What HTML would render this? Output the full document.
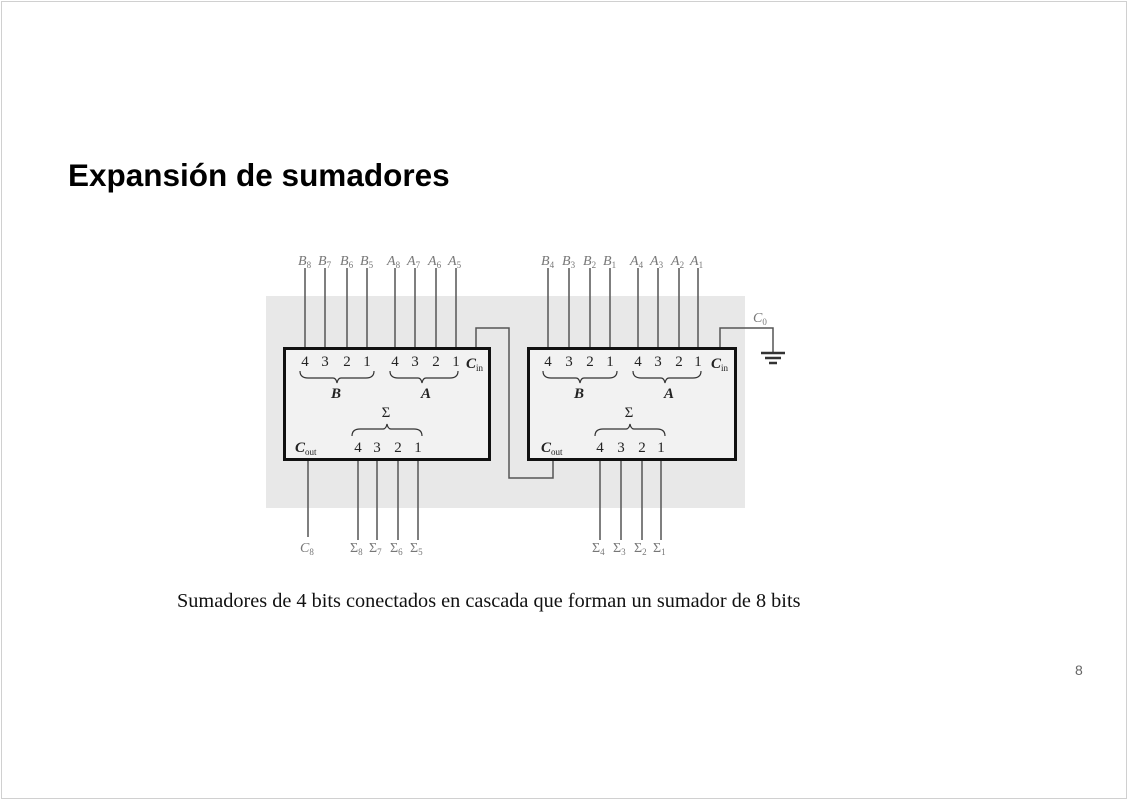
<!DOCTYPE html>
<html><head><meta charset="utf-8"><style>
body{margin:0;width:1128px;height:800px;background:#fff;overflow:hidden;position:relative;font-family:"Liberation Sans",sans-serif}
.frame{position:absolute;left:1px;top:1px;width:1124px;height:796px;border:1px solid #d0d0d0}
h1{position:absolute;left:68px;top:157px;margin:0;font-size:31.5px;font-weight:bold;color:#000}
.cap{position:absolute;left:177px;top:590px;font-family:"Liberation Serif",serif;font-size:20.3px;color:#111}
.pn{position:absolute;left:1075px;top:662px;font-size:14px;color:#666}
tspan{font-style:normal}
</style></head><body>
<div class="frame"></div>
<h1>Expansión de sumadores</h1>
<svg width="1128" height="800" style="position:absolute;left:0;top:0" font-family="Liberation Serif,serif">
<rect x="266" y="296" width="479" height="212" fill="#e8e8e8"/>
<g stroke="#555" stroke-width="1.5" fill="none">
<path d="M305 268V347M325 268V347M347 268V347M367 268V347M395 268V347M415 268V347M436 268V347M456 268V347"/>
<path d="M548 268V347M569 268V347M590 268V347M610 268V347M638 268V347M658 268V347M679 268V347M698 268V347"/>
<path d="M476 347V328H509V478H553V460"/>
<path d="M720 347V328H773V352"/>
<path d="M308 460V537M358 460V540M377 460V540M398 460V540M418 460V540"/>
<path d="M600 460V540M621 460V540M642 460V540M661 460V540"/>
</g>
<g stroke="#333" stroke-width="2.5"><path d="M761 353H785M765 358H781M769 363H777"/></g>
<rect x="284.5" y="348.5" width="205" height="111" fill="#f2f2f2" stroke="#111" stroke-width="3"/>
<rect x="528.5" y="348.5" width="207" height="111" fill="#f2f2f2" stroke="#111" stroke-width="3"/>
<g fill="#777" font-size="14" font-style="italic">
<text x="298" y="265">B<tspan font-size="9" dy="3">8</tspan></text>
<text x="318" y="265">B<tspan font-size="9" dy="3">7</tspan></text>
<text x="340" y="265">B<tspan font-size="9" dy="3">6</tspan></text>
<text x="360" y="265">B<tspan font-size="9" dy="3">5</tspan></text>
<text x="387" y="265">A<tspan font-size="9" dy="3">8</tspan></text>
<text x="407" y="265">A<tspan font-size="9" dy="3">7</tspan></text>
<text x="428" y="265">A<tspan font-size="9" dy="3">6</tspan></text>
<text x="448" y="265">A<tspan font-size="9" dy="3">5</tspan></text>
<text x="541" y="265">B<tspan font-size="9" dy="3">4</tspan></text>
<text x="562" y="265">B<tspan font-size="9" dy="3">3</tspan></text>
<text x="583" y="265">B<tspan font-size="9" dy="3">2</tspan></text>
<text x="603" y="265">B<tspan font-size="9" dy="3">1</tspan></text>
<text x="630" y="265">A<tspan font-size="9" dy="3">4</tspan></text>
<text x="650" y="265">A<tspan font-size="9" dy="3">3</tspan></text>
<text x="671" y="265">A<tspan font-size="9" dy="3">2</tspan></text>
<text x="690" y="265">A<tspan font-size="9" dy="3">1</tspan></text>
<text x="753" y="322">C<tspan font-size="9" dy="3">0</tspan></text>
<text x="300" y="552">C<tspan font-size="9" dy="3">8</tspan></text>
</g>
<g fill="#777" font-size="14">
<text x="350" y="552">Σ<tspan font-size="9" dy="3">8</tspan></text>
<text x="369" y="552">Σ<tspan font-size="9" dy="3">7</tspan></text>
<text x="390" y="552">Σ<tspan font-size="9" dy="3">6</tspan></text>
<text x="410" y="552">Σ<tspan font-size="9" dy="3">5</tspan></text>
<text x="592" y="552">Σ<tspan font-size="9" dy="3">4</tspan></text>
<text x="613" y="552">Σ<tspan font-size="9" dy="3">3</tspan></text>
<text x="634" y="552">Σ<tspan font-size="9" dy="3">2</tspan></text>
<text x="653" y="552">Σ<tspan font-size="9" dy="3">1</tspan></text>
</g>
<g fill="#222" font-size="15" text-anchor="middle">
<text x="305" y="366">4</text><text x="325" y="366">3</text><text x="347" y="366">2</text><text x="367" y="366">1</text>
<text x="395" y="366">4</text><text x="415" y="366">3</text><text x="436" y="366">2</text><text x="456" y="366">1</text>
<text x="548" y="366">4</text><text x="569" y="366">3</text><text x="590" y="366">2</text><text x="610" y="366">1</text>
<text x="638" y="366">4</text><text x="658" y="366">3</text><text x="679" y="366">2</text><text x="698" y="366">1</text>
<text x="358" y="452">4</text><text x="377" y="452">3</text><text x="398" y="452">2</text><text x="418" y="452">1</text>
<text x="600" y="452">4</text><text x="621" y="452">3</text><text x="642" y="452">2</text><text x="661" y="452">1</text>
<text x="386" y="417">Σ</text><text x="629" y="417">Σ</text>
</g>
<g fill="#222" font-size="15" font-style="italic" font-weight="bold">
<text x="331" y="398">B</text><text x="421" y="398">A</text>
<text x="574" y="398">B</text><text x="664" y="398">A</text>
<text x="466" y="368">C<tspan font-size="9" dy="3" font-weight="normal">in</tspan></text>
<text x="711" y="368">C<tspan font-size="9" dy="3" font-weight="normal">in</tspan></text>
<text x="295" y="452">C<tspan font-size="9" dy="3" font-weight="normal">out</tspan></text>
<text x="541" y="452">C<tspan font-size="9" dy="3" font-weight="normal">out</tspan></text>
</g>
<g stroke="#333" stroke-width="1.2" fill="none">
<path d="M300 371q0 7 8 7h25q3 0 4 5q1-5 4-5h25q8 0 8-7"/>
<path d="M390 371q0 7 8 7h20q3 0 4 5q1-5 4-5h24q8 0 8-7"/>
<path d="M543 371q0 7 8 7h25q3 0 4 5q1-5 4-5h25q8 0 8-7"/>
<path d="M633 371q0 7 8 7h20q3 0 4 5q1-5 4-5h24q8 0 8-7"/>
<path d="M352 436q0-7 8-7h23q3 0 4-5q1 5 4 5h23q8 0 8 7"/>
<path d="M595 436q0-7 8-7h23q3 0 4-5q1 5 4 5h23q8 0 8 7"/>
</g>
</svg>
<div class="cap">Sumadores de 4 bits conectados en cascada que forman un sumador de 8 bits</div>
<div class="pn">8</div>
</body></html>
